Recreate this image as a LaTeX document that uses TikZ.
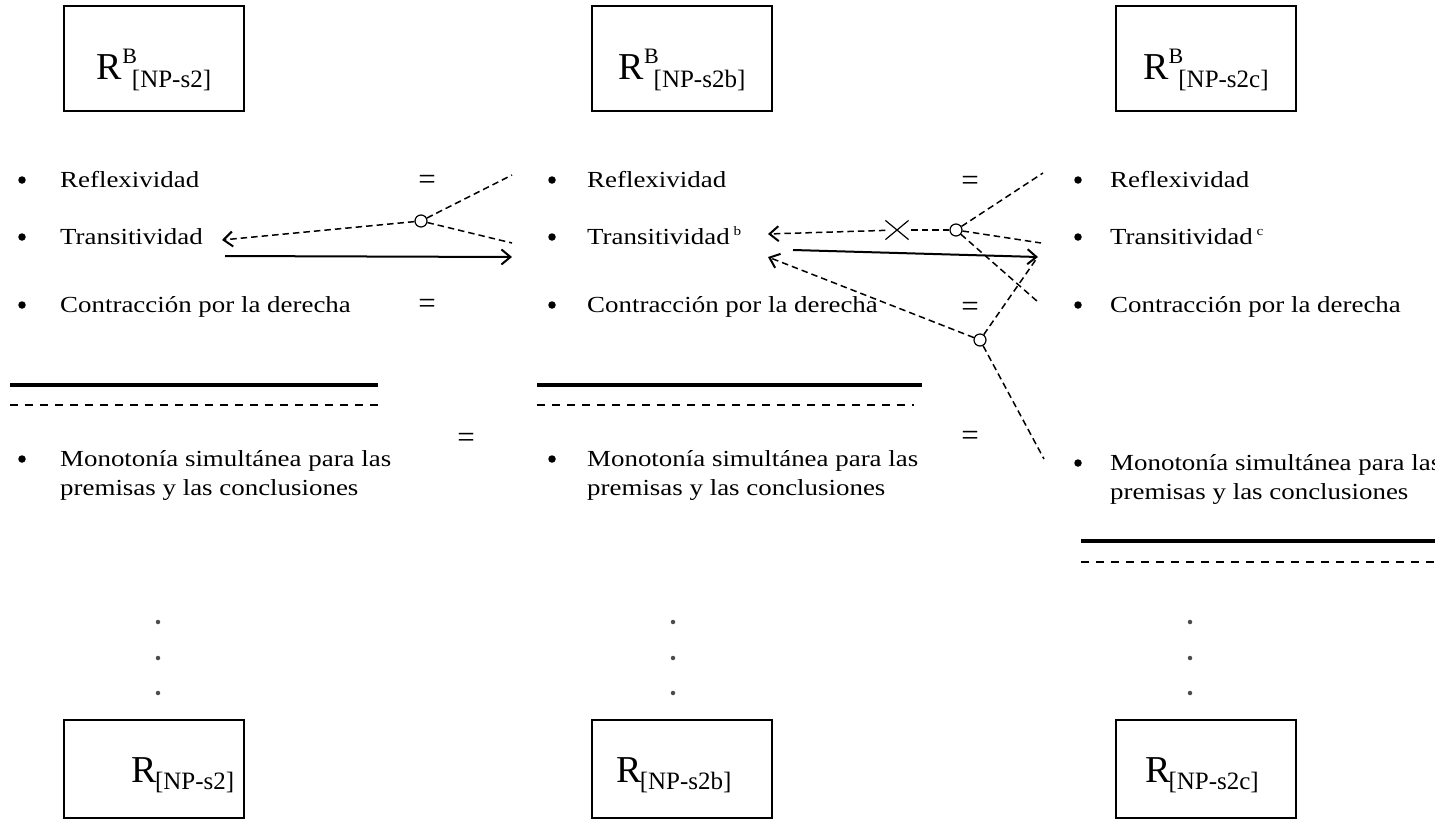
\documentclass[tikz,border=0pt]{standalone}
\usepackage{fontspec}
\setmainfont{Liberation Serif}
\newfontfamily\bodyfont[FakeStretch=1.17]{Liberation Serif}
\usetikzlibrary{arrows.meta,calc,shapes.misc}

% label of a rule box: R with superscript B and a subscript, or R with a subscript only
\newcommand\rsupsub[1]{{\fontsize{38}{38}\selectfont R}\raisebox{16pt}{\fontsize{22}{22}\selectfont B}\kern-5pt\raisebox{-8pt}{\fontsize{25}{25}\selectfont[#1]}}
\newcommand\rsub[1]{{\fontsize{38}{38}\selectfont R}\raisebox{-7pt}{\fontsize{25}{25}\selectfont\kern-2pt[#1]}}

\tikzset{
  rbox/.style={draw, line width=1.6pt, minimum width=180pt, minimum height=105pt, inner sep=0pt},
  rboxlow/.style={rbox, minimum height=98pt},
  rlabel/.style={anchor=base, inner sep=0pt},
  item/.style={anchor=base west, inner sep=0pt, font=\bodyfont\fontsize{23}{28}\selectfont},
  bul/.style={circle, fill=black, inner sep=0pt, minimum size=7.5pt},
  eqsign/.style={inner sep=0pt, font=\fontsize{31}{31}\selectfont},
  junction/.style={circle, draw, line width=1.2pt, minimum size=12pt, inner sep=0pt},
  dsh/.style={line width=1.5pt, dash pattern=on 6.5pt off 4pt},
  tip/.style={-{Straight Barb[length=9pt,width=15pt,line width=2pt]}},
  solidarrow/.style={line width=2pt, tip},
  rule/.style={line width=3.5pt},
  druler/.style={line width=2.5pt, dash pattern=on 8pt off 7pt},
  vdot/.style={circle, fill=black!70, inner sep=0pt, minimum size=4.5pt},
  xmark/.style={cross out, draw, line width=1.2pt, minimum width=22pt, minimum height=18pt, inner sep=0pt},
}

\begin{document}
\begin{tikzpicture}[x=1pt,y=-1pt]
\useasboundingbox (0,0) rectangle (1435,828);

% top rule boxes
\node[rbox] (tb1) at (154,58.5) {};
\node[rbox] (tb2) at (682,58.5) {};
\node[rbox] (tb3) at (1206,58.5) {};
\node[rlabel] (tl1) at (154,79) {\rsupsub{NP-s2}};
\node[rlabel] (tl2) at (682,79) {\rsupsub{NP-s2b}};
\node[rlabel] (tl3) at (1206,79) {\rsupsub{NP-s2c}};

% bottom rule boxes
\node[rboxlow] (bb1) at (154,769) {};
\node[rboxlow] (bb2) at (682,769) {};
\node[rboxlow] (bb3) at (1206,769) {};
\node[rlabel] (bl1) at (183,782) {\rsub{NP-s2}};
\node[rlabel] (bl2) at (674,782) {\rsub{NP-s2b}};
\node[rlabel] (bl3) at (1202,782) {\rsub{NP-s2c}};

% column 1
\node[bul] (ub11) at (22,180) {};
\node[bul] (ub12) at (22,237) {};
\node[bul] (ub13) at (22,305) {};
\node[item] (r1) at (60,187) {Reflexividad};
\node[item] (t1) at (60,244) {Transitividad};
\node[item] (c1) at (60,312) {Contracción por la derecha};
\node[bul] (ub14) at (22,459) {};
\node[item] (m1a) at (60,466) {Monotonía simultánea para las};
\node[item] (m1b) at (60,495) {premisas y las conclusiones};

% column 2
\node[bul] (ub21) at (552,180) {};
\node[bul] (ub22) at (552,237) {};
\node[bul] (ub23) at (552,305) {};
\node[item] (r2) at (587,187) {Reflexividad};
\node[item] (t2) at (587,244) {Transitividad\,\raisebox{9pt}{\fontsize{13}{13}\selectfont b}};
\node[item] (c2) at (587,312) {Contracción por la derecha};
\node[bul] (ub24) at (552,459) {};
\node[item] (m2a) at (587,466) {Monotonía simultánea para las};
\node[item] (m2b) at (587,495) {premisas y las conclusiones};

% column 3
\node[bul] (ub31) at (1078,180) {};
\node[bul] (ub32) at (1078,237) {};
\node[bul] (ub33) at (1078,305) {};
\node[item] (r3) at (1110,187) {Reflexividad};
\node[item] (t3) at (1110,244) {Transitividad\,\raisebox{9pt}{\fontsize{13}{13}\selectfont c}};
\node[item] (c3) at (1110,312) {Contracción por la derecha};
\node[bul] (ub34) at (1078,463) {};
\node[item] (m3a) at (1110,470) {Monotonía simultánea para las};
\node[item] (m3b) at (1110,499) {premisas y las conclusiones};

% equality marks
\node[eqsign] (q1) at (427,182) {=};
\node[eqsign] (q2) at (427,306) {=};
\node[eqsign] (q3) at (970,183) {=};
\node[eqsign] (q4) at (970,309) {=};
\node[eqsign] (q5) at (466,440) {=};
\node[eqsign] (q6) at (970,438) {=};

% separating rules
\draw[rule] (10,385) coordinate (ra1) -- (378,385) coordinate (ra2);
\draw[druler] (10,405) coordinate (da1) -- (378,405) coordinate (da2);
\draw[rule] (537,385) coordinate (rb1) -- (922,385) coordinate (rb2);
\draw[druler] (537,405) coordinate (db1) -- (914,405) coordinate (db2);
\draw[rule] (1081,541) coordinate (rc1) -- (1435,541) coordinate (rc2);
\draw[druler] (1081,562) coordinate (dc1) -- (1435,562) coordinate (dc2);

% vertical ellipses
\foreach \x/\n in {158/1,673/2,1190/3}{
  \node[vdot] (v\n a) at (\x,622) {};
  \node[vdot] (v\n b) at (\x,658) {};
  \node[vdot] (v\n c) at (\x,693) {};
}

% junctions
\node[junction] (j1) at (421,221) {};
\node[junction] (j2) at (956,230) {};
\node[junction] (j3) at (980,340) {};
\node[xmark] (x1) at (897,230) {};

% free ends of connectors
\coordinate (e11) at (512,175);
\coordinate (e12) at (512,243);
\coordinate (h1) at (222,240);
\coordinate (s1a) at (225,256);
\coordinate (s1b) at (512,257);
\coordinate (e21) at (1043,173);
\coordinate (e22) at (1041,243);
\coordinate (e23) at (1038,302);
\coordinate (h2) at (768,234);
\coordinate (s2a) at (793,250);
\coordinate (s2b) at (1038,257);
\coordinate (e31) at (1037,258);
\coordinate (e32) at (1044,459);
\coordinate (h3) at (768,257);

% connectors between columns 1 and 2
\draw[dsh,tip] (j1) -- (h1);
\draw[dsh] (j1) -- (e11);
\draw[dsh] (j1) -- (e12);
\draw[solidarrow] (s1a) -- (s1b);

% connectors between columns 2 and 3
\draw[dsh] (j2) -- (x1);
\draw[dsh,tip] (x1) -- (h2);
\draw[dsh] (j2) -- (e21);
\draw[dsh] (j2) -- (e22);
\draw[dsh] (j2) -- (e23);
\draw[solidarrow] (s2a) -- (s2b);
\draw[dsh,tip] (j3) -- (h3);
\draw[dsh] (j3) -- (e31);
\draw[dsh] (j3) -- (e32);
\end{tikzpicture}
\end{document}
